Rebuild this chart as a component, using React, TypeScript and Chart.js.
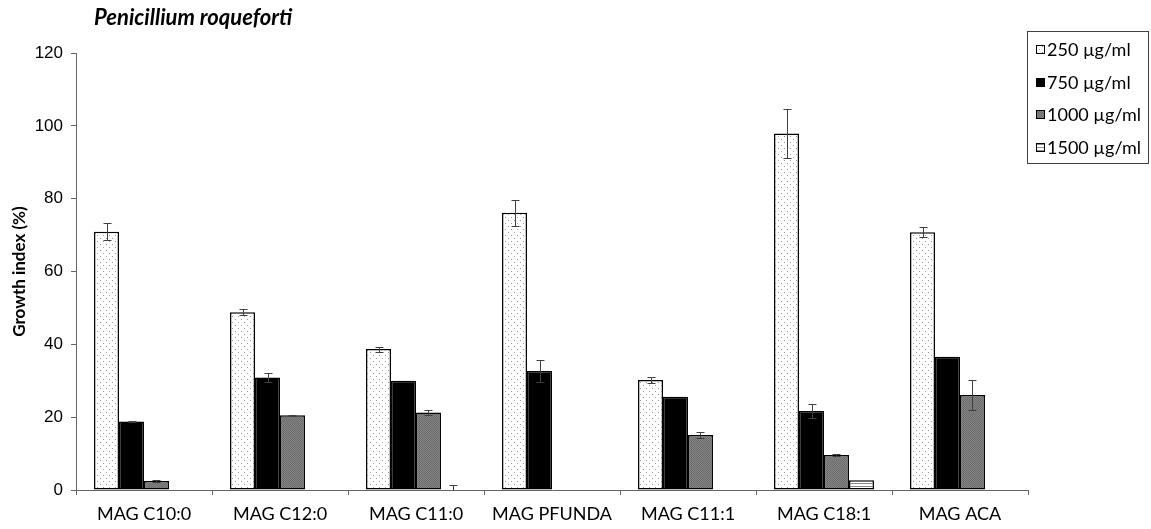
import React, { useEffect, useRef } from 'react';
import { Chart, registerables } from 'chart.js';

Chart.register(...registerables);

const chartTitle = 'Penicillium roqueforti';
const yAxisTitle = 'Growth index (%)';
const categories = ['MAG C10:0', 'MAG C12:0', 'MAG C11:0', 'MAG PFUNDA', 'MAG C11:1', 'MAG C18:1', 'MAG ACA'];
const seriesLabels = ['250 µg/ml', '750 µg/ml', '1000 µg/ml', '1500 µg/ml'];
const values250 = [70.9, 48.8, 38.7, 76.1, 30.2, 97.9, 70.8];
const err250 = [2.3, 0.8, 0.7, 3.5, 0.7, 6.6, 1.4];
const values750 = [18.8, 30.9, 30.0, 32.7, 25.6, 21.7, 36.6];
const err750 = [0.2, 1.2, 0, 3.0, 0, 2.0, 0];
const values1000: (number | null)[] = [2.5, 20.5, 21.3, null, 15.1, 9.6, 26.1];
const err1000: (number | null)[] = [0.2, 0.2, 0.6, null, 0.8, 0.2, 4.1];
const values1500: (number | null)[] = [null, null, 0, null, null, 2.7, null];
const err1500: (number | null)[] = [null, null, 1.5, null, null, 0, null];
const yMin = 0;
const yMax = 120;
const yStep = 20;

const allValues = [values250, values750, values1000, values1500];
const allErrors = [err250, err750, err1000, err1500];

function makePattern(kind: string): CanvasPattern | string {
  const c = document.createElement('canvas');
  const ctx = c.getContext('2d')!;
  if (kind === 'dots') {
    c.width = 6; c.height = 6;
    ctx.fillStyle = '#ffffff';
    ctx.fillRect(0, 0, 6, 6);
    ctx.fillStyle = '#9a9a9a';
    ctx.fillRect(1, 1, 1, 1);
    ctx.fillRect(4, 4, 1, 1);
  } else if (kind === 'gray') {
    c.width = 2; c.height = 2;
    ctx.fillStyle = '#848484';
    ctx.fillRect(0, 0, 2, 2);
    ctx.fillStyle = '#6c6c6c';
    ctx.fillRect(0, 0, 1, 1);
    ctx.fillRect(1, 1, 1, 1);
  } else if (kind === 'stripes') {
    c.width = 4; c.height = 3;
    ctx.fillStyle = '#ffffff';
    ctx.fillRect(0, 0, 4, 3);
    ctx.fillStyle = '#8a8a8a';
    ctx.fillRect(0, 0, 4, 1);
  }
  const p = ctx.createPattern(c, 'repeat');
  return p || '#ffffff';
}

export default function App() {
  const canvasRef = useRef<HTMLCanvasElement | null>(null);

  useEffect(() => {
    document.body.style.margin = '0';
    const canvas = canvasRef.current;
    if (!canvas) return;

    const fills = [makePattern('dots'), '#000000', makePattern('gray'), makePattern('stripes')];

    const overlay = {
      id: 'overlay',
      afterDatasetsDraw(chart: any) {
        const ctx = chart.ctx;
        const yScale = chart.scales.y;
        ctx.save();
        ctx.strokeStyle = '#404040';
        ctx.lineWidth = 1;
        allValues.forEach((vals, di) => {
          const meta = chart.getDatasetMeta(di);
          vals.forEach((v, i) => {
            const e = allErrors[di][i];
            if (v == null || e == null || e <= 0) return;
            const bar = meta.data[i];
            if (!bar) return;
            const x = Math.round(bar.x) + 0.5;
            const yTop = Math.round(yScale.getPixelForValue(v + e)) + 0.5;
            const yBot = Math.round(yScale.getPixelForValue(Math.max(v - e, yMin))) + 0.5;
            ctx.beginPath();
            ctx.moveTo(x, yTop);
            ctx.lineTo(x, yBot);
            ctx.moveTo(x - 4, yTop);
            ctx.lineTo(x + 4, yTop);
            if (v - e > yMin) {
              ctx.moveTo(x - 4, yBot);
              ctx.lineTo(x + 4, yBot);
            }
            ctx.stroke();
          });
        });
        ctx.restore();
      },
      afterDraw(chart: any) {
        const ctx = chart.ctx;
        ctx.save();
        // Title
        ctx.fillStyle = '#000';
        ctx.font = 'italic bold 22px Lato';
        ctx.textAlign = 'left';
        ctx.textBaseline = 'middle';
        ctx.fillText(chartTitle, 94, 18);
        // Y axis title
        ctx.save();
        ctx.translate(20, (chart.chartArea.top + chart.chartArea.bottom) / 2);
        ctx.rotate(-Math.PI / 2);
        ctx.font = 'bold 17px Lato';
        ctx.textAlign = 'center';
        ctx.textBaseline = 'middle';
        ctx.fillText(yAxisTitle, 0, 0);
        ctx.restore();
        // Legend
        const lx = 1027.5, ly = 31.5, lw = 121, lh = 132;
        ctx.fillStyle = '#ffffff';
        ctx.fillRect(lx, ly, lw, lh);
        ctx.strokeStyle = '#404040';
        ctx.lineWidth = 1;
        ctx.strokeRect(lx, ly, lw, lh);
        ctx.font = '18px Lato';
        ctx.textAlign = 'left';
        ctx.textBaseline = 'middle';
        seriesLabels.forEach((label, i) => {
          const cy = 49 + i * 32.7;
          const sx = 1036, sy = Math.round(cy - 4);
          ctx.fillStyle = fills[i] as any;
          ctx.fillRect(sx, sy, 8, 8);
          ctx.strokeStyle = '#000';
          ctx.strokeRect(sx + 0.5, sy + 0.5, 8, 8);
          ctx.fillStyle = '#000';
          ctx.fillText(label, 1047, cy + 1);
        });
        ctx.restore();
      },
    };

    const chart = new Chart(canvas, {
      type: 'bar',
      data: {
        labels: categories,
        datasets: allValues.map((vals, i) => ({
          label: seriesLabels[i],
          data: vals,
          backgroundColor: fills[i] as any,
          borderColor: '#000000',
          borderWidth: 1.5,
          borderSkipped: false,
          categoryPercentage: 0.735,
          barPercentage: 1,
        })),
      },
      options: {
        animation: false,
        responsive: false,
        maintainAspectRatio: false,
        layout: { padding: { top: 53, right: 123, left: 0, bottom: 0 } },
        plugins: {
          legend: { display: false },
          title: { display: false },
          tooltip: { enabled: false },
        },
        scales: {
          x: {
            offset: true,
            afterFit: (s: any) => { s.height = 39; },
            grid: {
              display: true,
              offset: true,
              drawOnChartArea: false,
              drawTicks: true,
              tickLength: 5,
              color: '#666',
            },
            border: { display: true, color: '#666', width: 1 },
            ticks: {
              font: { family: 'Lato', size: 18 },
              color: '#000',
              padding: 8,
              maxRotation: 0,
              autoSkip: false,
            },
          },
          y: {
            min: yMin,
            max: yMax,
            afterFit: (s: any) => { s.width = 76; },
            grid: {
              display: true,
              drawOnChartArea: false,
              drawTicks: true,
              tickLength: 5,
              color: '#666',
            },
            border: { display: true, color: '#666', width: 1 },
            ticks: {
              stepSize: yStep,
              font: { family: 'Liberation Sans', size: 17 },
              color: '#000',
              padding: 8,
            },
          },
        },
      },
      plugins: [overlay],
    });

    return () => chart.destroy();
  }, []);

  return (
    <div style={{ width: 1151, height: 529, background: '#fff' }}>
      <canvas ref={canvasRef} width={1151} height={529} style={{ display: 'block' }} />
    </div>
  );
}
